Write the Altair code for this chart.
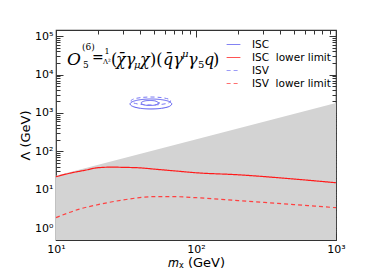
import altair as alt
import pandas as pd

# ---------------- data ----------------
x_domain = [10, 1000]
y_domain = [0.49, 1.45e5]

# grey excluded region (upper boundary)
band_mass = [10, 1000]
band_upper = [23.1, 1820]
band_lower = [0.49, 0.49]

# ISC lower limit (solid red)
isc_mass = [10, 13, 16, 20, 25, 30, 40, 50, 70, 100, 200, 500, 1000]
isc_lower = [21.8, 27.7, 32.0, 37.5, 38.8, 38.3, 37.1, 34.5, 31.0, 27.7, 24.5, 19.0, 15.2]

# ISV lower limit (dashed red)
isv_mass = [10, 15, 20, 30, 50, 70, 100, 200, 500, 1000]
isv_lower = [1.88, 3.2, 4.1, 5.4, 6.6, 6.6, 6.2, 5.2, 4.1, 3.4]

# small blue contours (ISC solid, ISV dashed)
isc_c1_m = [67.4, 64.4, 56.7, 47.7, 40.1, 35.4, 33.8, 35.4, 40.1, 47.7, 56.7, 64.4, 67.4]
isc_c1_l = [1714, 1990, 2218, 2311, 2218, 1990, 1714, 1475, 1322, 1270, 1322, 1475, 1714]
isc_c2_m = [54.4, 50.5, 43.6, 40.5, 43.6, 50.5, 54.4]
isc_c2_l = [1818, 2075, 2075, 1818, 1595, 1595, 1818]
isv_c_m = [66.3, 63.4, 56.2, 47.7, 40.5, 35.9, 34.3, 35.9, 40.5, 47.7, 56.2, 63.4, 66.3]
isv_c_l = [2050, 2311, 2521, 2604, 2521, 2311, 2050, 1818, 1666, 1614, 1666, 1818, 2050]

series_names = ["ISC", "ISC\u00a0 lower limit", "ISV", "ISV\u00a0 lower limit"]
series_colors = ["#5a5af0", "#ff1a1a", "#7a7af5", "#ff4040"]
series_dash = [[1, 0], [1, 0], [4, 3], [4, 3]]

x_major = [10, 100, 1000]
x_major_labels = ["10¹", "10²", "10³"]
y_major = [1, 10, 100, 1000, 10000, 100000]
y_major_labels = ["10⁰", "10¹", "10²", "10³", "10⁴", "10⁵"]

# formula annotation pieces: text, dx, dy, size, style
formula_anchor = (10, 18000)
formula_pieces = [
    ("O", 11, 0, 17, "italic"),
    ("(6)", 26, -15, 9, "normal"),
    ("5", 27, 3, 9, "normal"),
    ("=", 36, -3, 14, "normal"),
    ("1", 48.5, -11, 8, "normal"),
    ("Λ²", 47, -1, 7, "normal"),
    ("(", 55, 0, 16, "normal"),
    ("χ̄γ", 60, 0, 16, "italic"),
    ("μ", 78, 3, 10, "italic"),
    ("χ", 84, 0, 16, "italic"),
    (")(", 94, 0, 16, "normal"),
    ("q̄γ", 107, 0, 16, "italic"),
    ("μ", 126, -8, 10, "italic"),
    ("γ", 132, 0, 16, "italic"),
    ("5", 142, 3, 10, "normal"),
    ("q", 148, 0, 16, "italic"),
    (")", 157, 0, 16, "normal"),
]

# ---------------- tables ----------------
band_df = pd.DataFrame({"m": band_mass, "hi": band_upper, "lo": band_lower})

rows = []
for i, (m, l) in enumerate(zip(isc_mass, isc_lower)):
    rows.append({"m": m, "L": l, "series": series_names[1], "curve": "a", "o": i})
red_solid = pd.DataFrame(rows)
rows = []
for i, (m, l) in enumerate(zip(isv_mass, isv_lower)):
    rows.append({"m": m, "L": l, "series": series_names[3], "curve": "b", "o": i})
red_dash = pd.DataFrame(rows)
rows = []
for name, cid, ms, ls in [(series_names[0], "c1", isc_c1_m, isc_c1_l),
                          (series_names[0], "c2", isc_c2_m, isc_c2_l),
                          (series_names[2], "c3", isv_c_m, isv_c_l)]:
    for i, (m, l) in enumerate(zip(ms, ls)):
        rows.append({"m": m, "L": l, "series": name, "curve": cid, "o": i})
contours = pd.DataFrame(rows)

xs = alt.Scale(type="log", domain=x_domain, nice=False)
ys = alt.Scale(type="log", domain=y_domain, nice=False)
cscale = alt.Scale(domain=series_names, range=series_colors)
dscale = alt.Scale(domain=series_names, range=series_dash)


def label_expr(vals, labels):
    parts = " : ".join(f"datum.value == {v} ? '{t}'" for v, t in zip(vals, labels))
    return parts + " : ''"


x_minor = [k * d for d in [10, 100] for k in range(2, 10)]
y_minor = [k * d for d in [0.1, 1, 10, 100, 1000, 10000] for k in range(2, 10)
           if y_domain[0] < k * d < y_domain[1]]

tick_common = dict(domain=False, grid=False, tickColor="#333333", tickWidth=1)

ax_x_bottom = alt.Axis(orient="bottom", values=x_major, labelExpr=label_expr(x_major, x_major_labels),
                       tickSize={"expr": "-7"}, labelPadding=10, labelFlush=False,
                       labelFont="DejaVu Sans", labelFontSize=11, labelColor="black",
                       title="𝑚ᵪ (GeV)", titleFont="DejaVu Sans", titleFontSize=13,
                       titleFontWeight="normal", titleColor="black", titlePadding=2, **tick_common)
ax_x_bottom_minor = alt.Axis(orient="bottom", values=x_minor, labels=False, tickSize={"expr": "-4"},
                             title=None, **tick_common)
ax_x_top = alt.Axis(orient="top", values=x_major, labels=False, tickSize={"expr": "-7"}, title=None, **tick_common)
ax_x_top_minor = alt.Axis(orient="top", values=x_minor, labels=False, tickSize={"expr": "-4"}, title=None,
                          **tick_common)

ax_y_left = alt.Axis(orient="left", values=y_major, labelExpr=label_expr(y_major, y_major_labels),
                     tickSize={"expr": "-7"}, labelPadding=10, labelFlush=False,
                     labelFont="DejaVu Sans", labelFontSize=11, labelColor="black",
                     title="Λ (GeV)", titleFont="DejaVu Sans", titleFontSize=13,
                     titleFontWeight="normal", titleColor="black", titlePadding=2, **tick_common)
ax_y_left_minor = alt.Axis(orient="left", values=y_minor, labels=False, tickSize={"expr": "-4"},
                           title=None, **tick_common)
ax_y_right = alt.Axis(orient="right", values=y_major, labels=False, tickSize={"expr": "-7"}, title=None,
                      **tick_common)
ax_y_right_minor = alt.Axis(orient="right", values=y_minor, labels=False, tickSize={"expr": "-4"}, title=None,
                            **tick_common)

legend = alt.Legend(title=None, orient="none", legendX=170, legendY=7, symbolType="stroke",
                    symbolSize=190, symbolStrokeWidth=1.2, labelFont="DejaVu Sans", labelFontSize=10.5,
                    labelColor="black", labelOffset=11, rowPadding=0, symbolOpacity=0.75)

area = alt.Chart(band_df).mark_area(color="#d3d3d3", opacity=1).encode(
    x=alt.X("m:Q", scale=xs, axis=ax_x_bottom),
    y=alt.Y("hi:Q", scale=ys, axis=ax_y_left),
    y2="lo:Q",
)

solid = alt.Chart(red_solid).mark_line(strokeWidth=1.2, interpolate="monotone").encode(
    x=alt.X("m:Q", scale=xs, axis=ax_x_bottom_minor),
    y=alt.Y("L:Q", scale=ys, axis=ax_y_left_minor),
    color=alt.Color("series:N", scale=cscale, legend=legend),
    strokeDash=alt.StrokeDash("series:N", scale=dscale, legend=legend),
    order="o:Q",
)

dashed = alt.Chart(red_dash).mark_line(strokeWidth=1.2, interpolate="monotone").encode(
    x=alt.X("m:Q", scale=xs, axis=ax_x_top),
    y=alt.Y("L:Q", scale=ys, axis=ax_y_right),
    color=alt.Color("series:N", scale=cscale, legend=legend),
    strokeDash=alt.StrokeDash("series:N", scale=dscale, legend=legend),
    order="o:Q",
)

cont = alt.Chart(contours).mark_line(strokeWidth=1.0, interpolate="cardinal-closed").encode(
    x=alt.X("m:Q", scale=xs, axis=ax_x_top_minor),
    y=alt.Y("L:Q", scale=ys, axis=ax_y_right_minor),
    color=alt.Color("series:N", scale=cscale, legend=legend),
    strokeDash=alt.StrokeDash("series:N", scale=dscale, legend=legend),
    detail="curve:N",
    order="o:Q",
)

anchor_df = pd.DataFrame({"m": [formula_anchor[0]], "L": [formula_anchor[1]]})
text_layers = []
for t, dx, dy, size, style in formula_pieces:
    text_layers.append(
        alt.Chart(anchor_df).mark_text(text=t, dx=dx, dy=dy, fontSize=size, fontStyle=style,
                                       font="DejaVu Serif", align="left", baseline="alphabetic",
                                       color="black").encode(
            x=alt.X("m:Q", scale=xs, axis=None),
            y=alt.Y("L:Q", scale=ys, axis=None),
        )
    )

chart = alt.layer(area, solid, dashed, cont, *text_layers).resolve_axis(
    x="independent", y="independent"
).properties(
    width=280, height=210,
    autosize=alt.AutoSizeParams(type="none"),
    padding={"left": 48, "top": 22, "right": 30, "bottom": 32},
).configure_view(stroke="#333333", strokeWidth=1.2)

chart.save("out.html", embed_options={"renderer": "svg", "actions": False})
